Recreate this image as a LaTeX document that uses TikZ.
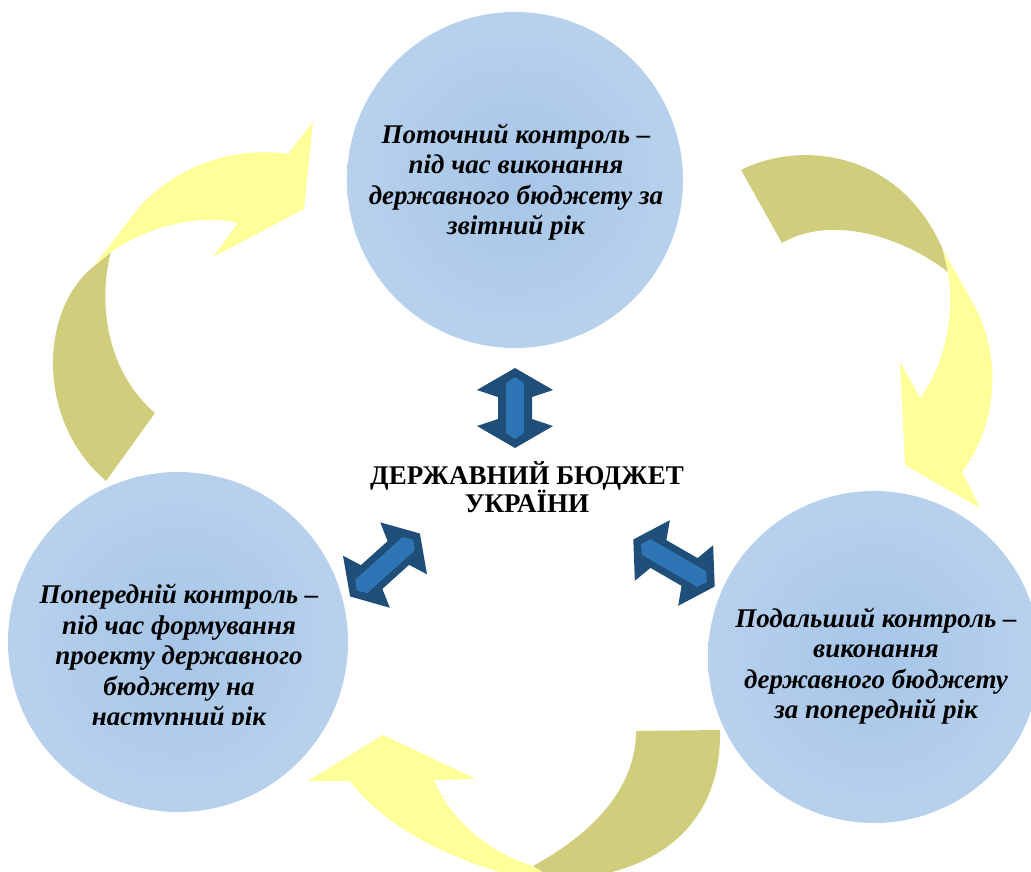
\documentclass[tikz,border=0pt]{standalone}
\usepackage{fontspec}
\setmainfont{Liberation Serif}
\definecolor{cin}{RGB}{166,197,231}
\definecolor{cmid}{RGB}{182,208,236}
\definecolor{cout}{RGB}{192,216,239}
\definecolor{ylw}{RGB}{255,255,153}
\definecolor{olv}{RGB}{208,206,124}
\definecolor{dkb}{RGB}{31,78,121}
\definecolor{mdb}{RGB}{46,117,182}
\pgfdeclareradialshading{bubble}{\pgfpoint{0bp}{0bp}}{color(0bp)=(cin); color(22bp)=(cmid); color(50bp)=(cout)}
\newcommand\dblarrow[6]{% x, y, angle, half length, head half width, shaft half width
  \begin{scope}[shift={(#1,#2)},rotate=#3]
    \fill[dkb] (#4,0) -- (#4-22,#5) -- (#4-29,#6) -- (-#4+29,#6) -- (-#4+22,#5) -- (-#4,0)
      -- (-#4+22,-#5) -- (-#4+29,-#6) -- (#4-29,-#6) -- (#4-22,-#5) -- cycle;
    \fill[mdb] (#4-9,0) -- (#4-15,9) -- (-#4+15,9) -- (-#4+9,0) -- (-#4+15,-9) -- (#4-15,-9) -- cycle;
  \end{scope}}
\begin{document}
\begin{tikzpicture}[x=1pt,y=-1pt,
  bubblenode/.style={circle, shade, shading=bubble, draw=none, inner sep=0pt},
  lbl/.style={font=\fontsize{27}{30.5}\selectfont\bfseries\itshape, align=center, inner sep=0pt},
  ctr/.style={font=\fontsize{27}{28.5}\selectfont\bfseries, align=center, inner sep=0pt}]
\useasboundingbox (0,0) rectangle (1031,871);
\clip (0,0) rectangle (1031,871);

% circles
\node[bubblenode, minimum size=336pt] (ctop) at (515,180) {};
\node[bubblenode, minimum size=340pt] (cleft) at (178,642) {};
\node[bubblenode, minimum size=332pt] (cright) at (874,657) {};

% left curved arrow
\fill[olv] (106,481) .. controls (35,420) and (40,310) .. (93,267)
  -- (111,252) .. controls (98,300) and (105,370) .. (155,413) -- cycle;
\fill[ylw] (93,267) -- (137,210) .. controls (170,170) and (230,145) .. (288,154)
  -- (313,122) -- (304,209) -- (213,257) -- (238,223)
  .. controls (200,214) and (150,225) .. (111,252) -- cycle;

% right curved arrow
\fill[olv] (741,170) .. controls (800,140) and (900,150) .. (943,250)
  -- (948,272) .. controls (900,235) and (830,215) .. (782,243) -- cycle;
\fill[ylw] (943,250) -- (975,307) .. controls (1000,355) and (1000,420) .. (962,472)
  -- (980,508) -- (905,465) -- (900,362) -- (920,398)
  .. controls (945,365) and (955,315) .. (948,272) -- cycle;

% bottom curved arrow
\fill[olv] (720,730) .. controls (722,830) and (650,880) .. (545,880)
  -- (533,866) .. controls (590,835) and (636,790) .. (636,731) -- cycle;
\fill[ylw] (565,886) .. controls (480,875) and (390,835) .. (350,781)
  -- (308,781) -- (383,735) -- (476,779) -- (434,780)
  .. controls (450,820) and (490,853) .. (533,866) -- cycle;

% double arrows
\dblarrow{515}{408}{90}{40}{38}{17}
\dblarrow{385}{565}{42}{47}{35}{16}
\dblarrow{674}{563}{-30}{47}{35}{16}

% texts
\node[lbl] (ttop) at (516,182) {Поточний контроль –\\під час виконання\\державного бюджету за\\звітний рік};
\node[lbl] (tright) at (876,666) {Подальший контроль –\\виконання\\державного бюджету\\за попередній рік};
\begin{scope}
  \clip (0,0) rectangle (1031,724);
  \node[lbl] (tleft) at (179,658) {Попередній контроль –\\під час формування\\проекту державного\\бюджету на\\наступний рік};
\end{scope}
\node[ctr] (budget) at (527,487) {ДЕРЖАВНИЙ БЮДЖЕТ\\УКРАЇНИ};
\end{tikzpicture}
\end{document}
